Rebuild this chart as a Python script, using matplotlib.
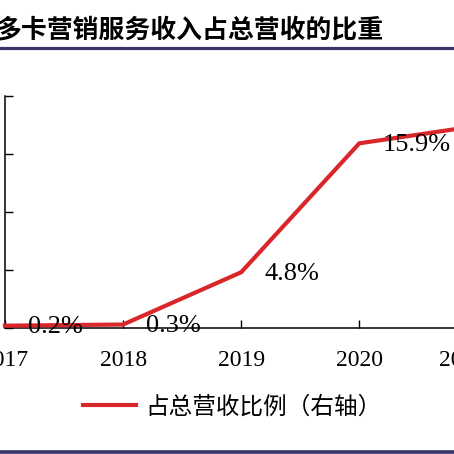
import matplotlib
matplotlib.use("Agg")
import matplotlib.pyplot as plt
from matplotlib.lines import Line2D

years = ["2017", "2018", "2019", "2020", "2021H1"]
share = [0.2, 0.3, 4.8, 15.9, 17.4]
share_labels = ["0.2%", "0.3%", "4.8%", "15.9%", None]

title = "多卡营销服务收入占总营收的比重"
legend_label = "占总营收比例（右轴）"

W = H = 454
fig = plt.figure(figsize=(W / 100, H / 100), dpi=100)

serif = ["Liberation Serif", "DejaVu Serif"]
cjk = ["Noto Sans CJK SC", "DejaVu Sans"]

# axes: left spine at x=5px, x-axis at y=328px, top at y=96px; spacing 118px per year
step = 118.1
left, bottom, top = 5, 328, 95.7
xmax = 4.5
ax = fig.add_axes([left / W, (H - bottom) / H, xmax * step / W, (bottom - top) / H])

xs = list(range(len(years)))
line, = ax.plot(xs, share, color="#d9262b", lw=3.0, solid_joinstyle="miter",
                clip_on=False, label=legend_label, zorder=3)

for x, v, lab in zip(xs, share, share_labels):
    if lab:
        ax.annotate(lab, (x, v), xytext=(16.5, -1), textcoords="offset points",
                    ha="left", va="center", fontsize=19, family=serif, zorder=4)

ax.set_xlim(0, xmax)
ax.set_ylim(0, 20)
ax.set_xticks(xs)
ax.set_xticklabels(years, family=serif, fontsize=17)
ax.set_yticks([0, 5, 10, 15, 20])
ax.set_yticklabels([])
ax.tick_params(axis="x", direction="in", length=6, width=1, pad=15.5)
ax.tick_params(axis="y", direction="in", length=6, width=1)
for s in ["top", "right"]:
    ax.spines[s].set_visible(False)
for s in ["left", "bottom"]:
    ax.spines[s].set_linewidth(1.1)

fig.legend(handles=[line], loc="center", bbox_to_anchor=(232 / W, 1 - 407 / H),
           frameon=False, prop={"family": cjk, "size": 17},
           handlelength=2.25, handletextpad=0.4)

# title and the two navy rules
fig.text(-4 / W, 1 - 31 / H, title, ha="left", va="center", fontsize=18.6,
         family=cjk, fontweight="bold")
fig.add_artist(Line2D([0, 1], [1 - 48.3 / H] * 2, color="#39366a", lw=2.3))
fig.add_artist(Line2D([0, 1], [1 - 451.7 / H] * 2, color="#36336a", lw=2.6))

fig.savefig("out.png", dpi=100)
